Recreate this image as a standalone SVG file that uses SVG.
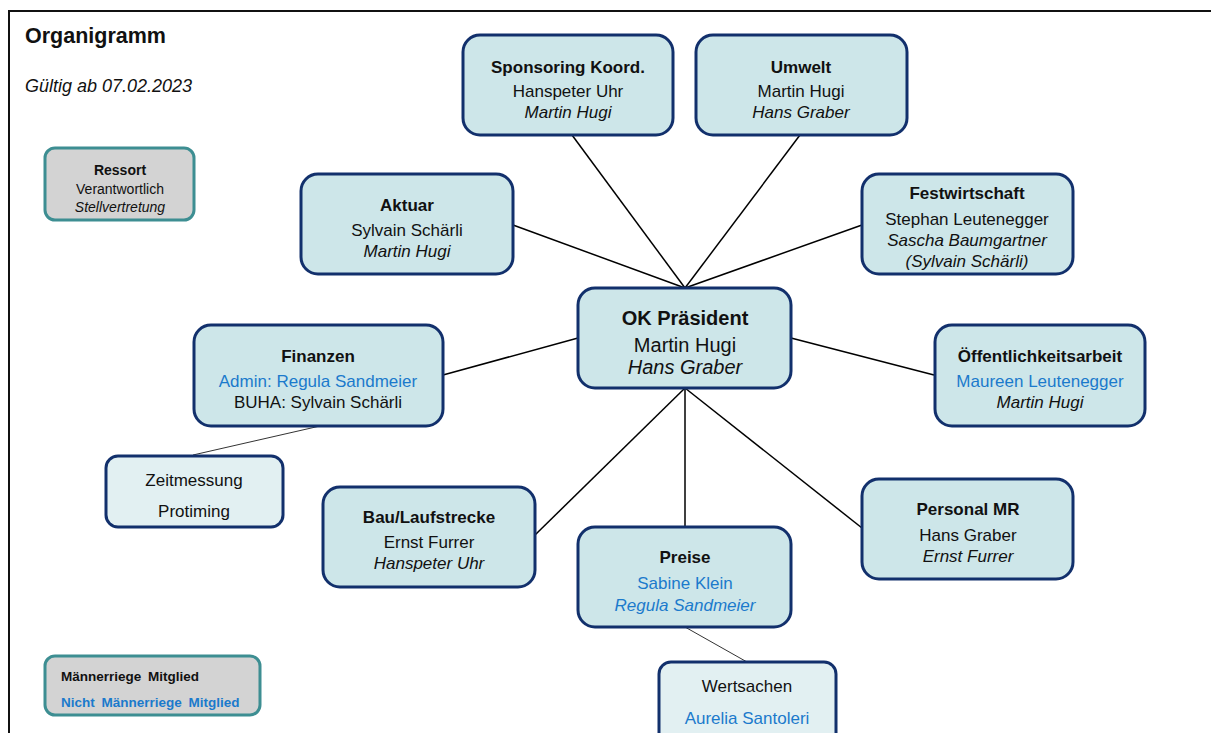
<svg xmlns="http://www.w3.org/2000/svg" width="1211" height="733" viewBox="0 0 1211 733">
<style>
.box{fill:#cde6e9;stroke:#12306c;stroke-width:3}
.sub{fill:#e2f0f2;stroke:#12306c;stroke-width:3}
.leg{fill:#d3d3d3;stroke:#3d8e92;stroke-width:3}
text{font-family:"Liberation Sans",Arial,sans-serif;fill:#111;text-anchor:middle}
.t{font-weight:bold;font-size:17px}
.r{font-size:17px}
.i{font-size:17px;font-style:italic}
.b{fill:#1b7acc}
.big{font-size:20px}
.c{stroke:#000;stroke-width:1.5;fill:none}
.thin{stroke:#333;stroke-width:1;fill:none}
</style>
<rect x="0" y="0" width="1211" height="733" fill="#fff"/>
<rect x="9" y="11" width="1300" height="800" fill="none" stroke="#111" stroke-width="2"/>
<text x="25" y="43" style="font-weight:bold;font-size:21.5px;text-anchor:start">Organigramm</text>
<text x="25" y="92" style="font-style:italic;font-size:18px;text-anchor:start">Gültig ab 07.02.2023</text>

<g id="connectors">
<line class="c" x1="572" y1="135" x2="685" y2="288"/>
<line class="c" x1="800" y1="135" x2="685" y2="288"/>
<line class="c" x1="513" y1="225" x2="685" y2="288"/>
<line class="c" x1="862" y1="225" x2="685" y2="288"/>
<line class="c" x1="443" y1="375" x2="578" y2="338"/>
<line class="c" x1="934" y1="375" x2="791" y2="338"/>
<line class="c" x1="685" y1="388" x2="535" y2="535"/>
<line class="c" x1="685" y1="388" x2="685" y2="526"/>
<line class="c" x1="685" y1="388" x2="862" y2="528"/>
<line class="thin" x1="320" y1="426" x2="193" y2="455"/>
<line class="thin" x1="685" y1="627" x2="747" y2="662"/>
</g>

<g id="legend-ressort">
<rect class="leg" x="45" y="148" width="149" height="72" rx="10"/>
<text x="120" y="175" style="font-weight:bold;font-size:14px">Ressort</text>
<text x="120" y="194" style="font-size:14px">Verantwortlich</text>
<text x="120" y="212" style="font-size:14px;font-style:italic">Stellvertretung</text>
</g>

<g id="legend-mitglied">
<rect class="leg" x="45" y="656" width="215" height="59" rx="10"/>
<text x="61" y="681" style="font-weight:bold;font-size:13.5px;text-anchor:start;word-spacing:3px">Männerriege Mitglied</text>
<text x="61" y="707" class="b" style="font-weight:bold;font-size:13.5px;text-anchor:start;word-spacing:3px">Nicht Männerriege Mitglied</text>
</g>

<g id="sponsoring">
<rect class="box" x="463" y="35" width="210" height="100" rx="17"/>
<text class="t" x="568" y="73">Sponsoring Koord.</text>
<text class="r" x="568" y="97">Hanspeter Uhr</text>
<text class="i" x="568" y="118">Martin Hugi</text>
</g>

<g id="umwelt">
<rect class="box" x="696" y="35" width="211" height="100" rx="17"/>
<text class="t" x="801" y="73">Umwelt</text>
<text class="r" x="801" y="97">Martin Hugi</text>
<text class="i" x="801" y="118">Hans Graber</text>
</g>

<g id="aktuar">
<rect class="box" x="301" y="174" width="212" height="100" rx="17"/>
<text class="t" x="407" y="211">Aktuar</text>
<text class="r" x="407" y="236">Sylvain Schärli</text>
<text class="i" x="407" y="257">Martin Hugi</text>
</g>

<g id="festwirtschaft">
<rect class="box" x="862" y="174" width="211" height="100" rx="17"/>
<text class="t" x="967" y="199">Festwirtschaft</text>
<text class="r" x="967" y="225">Stephan Leutenegger</text>
<text class="i" x="967" y="246">Sascha Baumgartner</text>
<text class="i" x="967" y="267">(Sylvain Schärli)</text>
</g>

<g id="ok-praesident">
<rect class="box" x="578" y="288" width="213" height="100" rx="17"/>
<text class="t big" x="685" y="325">OK Präsident</text>
<text class="r big" x="685" y="352">Martin Hugi</text>
<text class="i big" x="685" y="374">Hans Graber</text>
</g>

<g id="finanzen">
<rect class="box" x="194" y="325" width="249" height="101" rx="17"/>
<text class="t" x="318" y="362">Finanzen</text>
<text class="r b" x="318" y="387">Admin: Regula Sandmeier</text>
<text class="r" x="318" y="408">BUHA: Sylvain Schärli</text>
</g>

<g id="oeffentlichkeitsarbeit">
<rect class="box" x="935" y="325" width="210" height="101" rx="17"/>
<text class="t" x="1040" y="362">Öffentlichkeitsarbeit</text>
<text class="r b" x="1040" y="387">Maureen Leutenegger</text>
<text class="i" x="1040" y="408">Martin Hugi</text>
</g>

<g id="zeitmessung">
<rect class="sub" x="106" y="456" width="177" height="71" rx="12"/>
<text class="r" x="194" y="486">Zeitmessung</text>
<text class="r" x="194" y="517">Protiming</text>
</g>

<g id="bau-laufstrecke">
<rect class="box" x="323" y="487" width="212" height="100" rx="17"/>
<text class="t" x="429" y="523">Bau/Laufstrecke</text>
<text class="r" x="429" y="548">Ernst Furrer</text>
<text class="i" x="429" y="569">Hanspeter Uhr</text>
</g>

<g id="personal-mr">
<rect class="box" x="862" y="479" width="211" height="100" rx="17"/>
<text class="t" x="968" y="515">Personal MR</text>
<text class="r" x="968" y="541">Hans Graber</text>
<text class="i" x="968" y="562">Ernst Furrer</text>
</g>

<g id="preise">
<rect class="box" x="578" y="527" width="213" height="100" rx="17"/>
<text class="t" x="685" y="563">Preise</text>
<text class="r b" x="685" y="589">Sabine Klein</text>
<text class="i b" x="685" y="611">Regula Sandmeier</text>
</g>

<g id="wertsachen">
<rect class="sub" x="659" y="662" width="177" height="90" rx="12"/>
<text class="r" x="747" y="692">Wertsachen</text>
<text class="r b" x="747" y="724">Aurelia Santoleri</text>
</g>
</svg>
